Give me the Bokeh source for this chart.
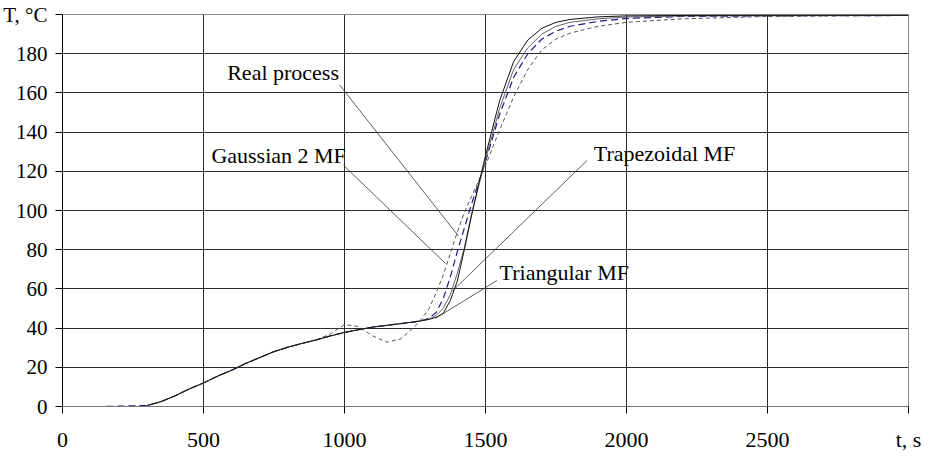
from bokeh.plotting import figure
from bokeh.models import Range1d, FixedTicker, Label
from bokeh.embed import file_html
from bokeh.resources import INLINE

# ---- data -------------------------------------------------------------
# measured temperature of the real process, degC
t_real = [0, 150, 300, 350, 400, 450, 500, 550, 600, 650, 700, 750, 800, 850,
          900, 950, 1000, 1050, 1100, 1150, 1200, 1250, 1275, 1300, 1325, 1350,
          1375, 1400, 1425, 1450, 1475, 1500, 1550, 1600, 1650, 1700, 1750,
          1800, 1900, 2000, 2200, 2500, 2750, 3000]
T_real = [0, 0, 0.5, 2.5, 5.5, 9, 12, 15.5, 18.5, 22, 25, 28, 30.3, 32.2,
          34, 36, 37.8, 39.2, 40.5, 41.4, 42.3, 43.2, 44, 45, 48, 55,
          66, 79, 91, 103, 114, 125, 149, 168, 180, 187.5, 191.5,
          194, 196.5, 198, 199, 199.3, 199.4, 199.5]

# time grid of the fuzzy model outputs, s
t_model = [300, 350, 400, 450, 500, 550, 600, 650, 700, 750, 800, 850, 900,
           950, 1000, 1050, 1100, 1150, 1200, 1250, 1275, 1300, 1325, 1350,
           1375, 1400, 1425, 1450, 1475, 1500, 1550, 1600, 1650, 1700, 1750,
           1800, 1900, 2000, 2200, 2500, 2750, 3000]

T_gauss2 = [0.5, 2.5, 5.5, 9, 12, 15.5, 18.5, 22, 25, 28, 30.3, 32.2, 34,
            37, 41.8, 40.8, 36, 32.8, 34.5, 41, 45, 50, 58, 67,
            78, 89, 99, 107, 115, 123, 141, 158, 172, 182, 187.5,
            190.5, 194, 196, 197.8, 199, 199.3, 199.5]

T_trapez = [0.5, 2.5, 5.5, 9, 12, 15.5, 18.5, 22, 25, 28, 30.3, 32.2, 34,
            36, 37.8, 39.2, 40.5, 41.4, 42.3, 43.2, 43.8, 44.5, 46.5, 50,
            57, 68, 81, 98, 112, 126, 152, 172, 183, 190, 194,
            196, 197.8, 198.7, 199.2, 199.4, 199.5, 199.5]

T_triang = [0.5, 2.5, 5.5, 9, 12, 15.5, 18.5, 22, 25, 28, 30.3, 32.2, 34,
            36, 37.8, 39.2, 40.5, 41.4, 42.3, 43.2, 43.8, 44.5, 45.5, 47.5,
            54, 64, 80, 97, 113, 128, 156, 176, 187, 193, 196,
            197.5, 198.8, 199.3, 199.5, 199.6, 199.6, 199.6]

x_ticks = [0, 500, 1000, 1500, 2000, 2500, 3000]
y_ticks = [0, 20, 40, 60, 80, 100, 120, 140, 160, 180, 200]
x_title = "t, s"          # shown in place of the last time tick
y_title = "T, \u00b0C"    # shown in place of the top temperature tick

# ---- figure -----------------------------------------------------------
FONT = "Liberation Serif"

p = figure(width=929, height=456, output_backend="svg", toolbar_location=None,
           x_range=Range1d(0, 3000), y_range=Range1d(0, 200),
           min_border_left=62, min_border_right=21, min_border_top=14,
           min_border_bottom=50)
p.background_fill_color = "white"
p.border_fill_color = "white"
p.outline_line_color = "#8a8a8a"
p.outline_line_width = 1

p.xaxis.ticker = FixedTicker(ticks=x_ticks)
p.yaxis.ticker = FixedTicker(ticks=y_ticks)
p.xgrid.ticker = FixedTicker(ticks=x_ticks)
p.ygrid.ticker = FixedTicker(ticks=y_ticks)
for g in (p.xgrid, p.ygrid):
    g.grid_line_color = "#2a2a2a"
    g.grid_line_width = 1

p.xaxis.major_label_overrides = {x_ticks[-1]: x_title}
p.yaxis.major_label_overrides = {y_ticks[-1]: y_title}
for ax in list(p.xaxis) + list(p.yaxis):
    ax.major_label_text_font = FONT
    ax.major_label_text_color = "black"
    ax.major_tick_in = 0
    ax.major_tick_out = 7
    ax.minor_tick_line_color = None
    ax.major_tick_line_color = "black"
p.xaxis.major_label_text_font_size = "22px"
p.yaxis.major_label_text_font_size = "21px"
p.xaxis.axis_line_color = "#777777"
p.yaxis.axis_line_color = "black"
p.xaxis.major_label_standoff = 13
p.yaxis.major_label_standoff = 8

# ---- curves -----------------------------------------------------------
p.line(t_real, T_real, line_color="#1c1c8a", line_width=1.2, line_dash="7 4")
p.line(t_model, T_gauss2, line_color="#555555", line_width=1, line_dash="4 3")
p.line(t_model, T_trapez, line_color="#666666", line_width=1)
p.line(t_model, T_triang, line_color="#111111", line_width=1)

# ---- callouts ---------------------------------------------------------
call_text = ["Real process", "Gaussian 2 MF", "Trapezoidal MF", "Triangular MF"]
call_x = [584, 528, 1884, 1550]
call_y = [170.5, 128, 129.3, 68.6]
lead_x0 = [983, 997, 1860, 1541]
lead_y0 = [164, 123, 125.5, 64.3]
lead_x1 = [1404, 1358, 1383, 1323]
lead_y1 = [87, 73, 59, 45]

p.segment(lead_x0, lead_y0, lead_x1, lead_y1, line_color="#333333", line_width=0.8)
for txt, x, y in zip(call_text, call_x, call_y):
    p.add_layout(Label(x=x, y=y, text=txt, text_font=FONT, text_font_size="22px",
                       text_color="black", text_baseline="alphabetic",
                       text_align="left"))

open("out.html", "w").write(file_html(p, INLINE))
